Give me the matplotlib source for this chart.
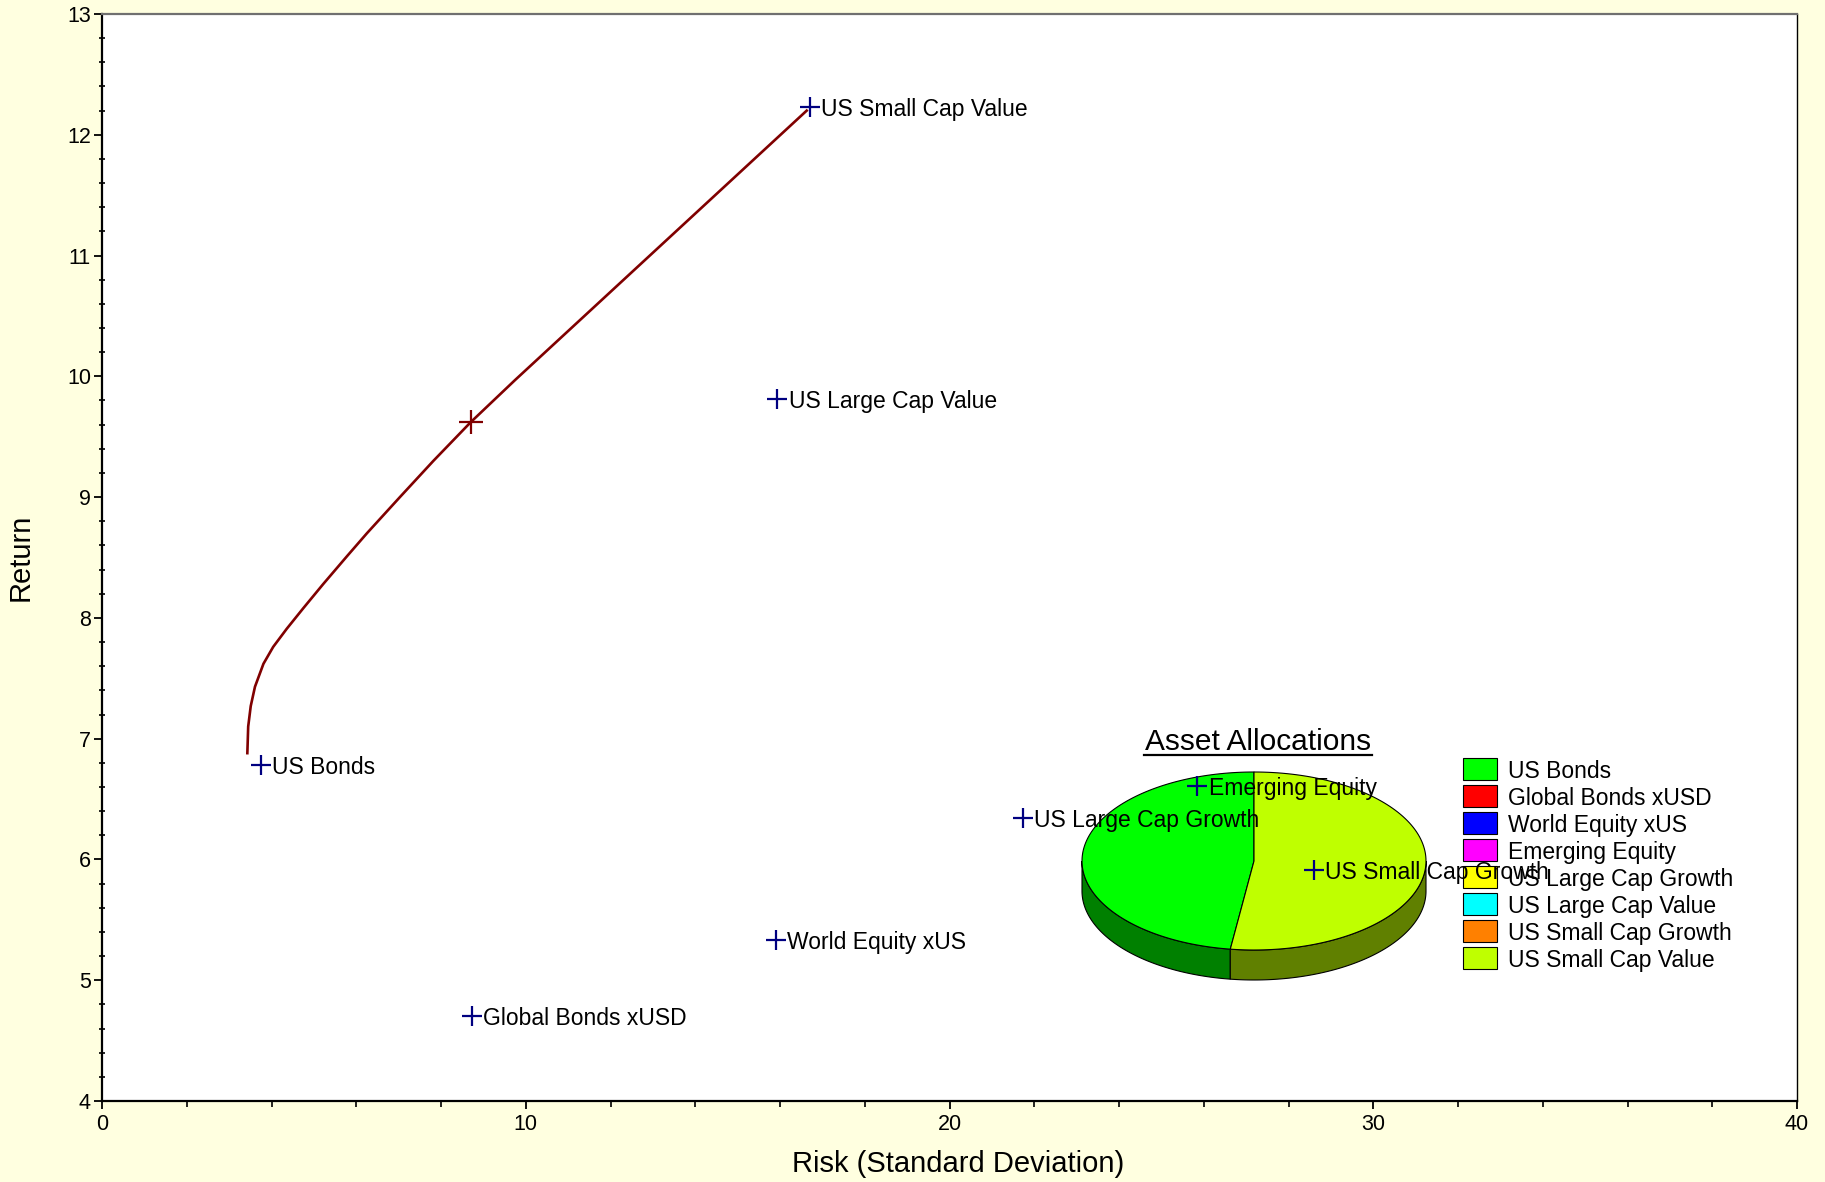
"""Efficient frontier chart with asset points and a 3D-style allocation pie."""

import matplotlib

matplotlib.use("Agg")
import numpy as np
from matplotlib import pyplot as plt
from matplotlib import transforms as mtransforms
from matplotlib.patches import Polygon, Rectangle
from matplotlib.ticker import MultipleLocator

plt.rcParams["font.family"] = ["Liberation Sans", "DejaVu Sans"]

# asset points (risk, return)
asset_names = [
    "US Bonds",
    "Global Bonds xUSD",
    "World Equity xUS",
    "Emerging Equity",
    "US Large Cap Growth",
    "US Large Cap Value",
    "US Small Cap Growth",
    "US Small Cap Value",
]
asset_risk = [3.75, 8.74, 15.91, 25.85, 21.73, 15.94, 28.60, 16.71]
asset_return = [6.78, 4.70, 5.33, 6.61, 6.34, 9.81, 5.91, 12.23]
asset_colors = ["#00FF00", "#FF0000", "#0000FF", "#FF00FF",
                "#FFFF00", "#00FFFF", "#FF8000", "#BFFF00"]
side_colors = ["#008000", "#800000", "#000080", "#800080",
               "#808000", "#008080", "#804000", "#608000"]

# allocation of the selected portfolio (%)
allocation_pct = [47.8, 0, 0, 0, 0, 0, 0, 52.2]

# efficient frontier
frontier_risk = [3.43, 3.45, 3.51, 3.61, 3.81, 4.04, 4.36, 4.75, 5.22, 5.78,
                 6.25, 7.03, 7.82, 8.70, 9.75, 16.63]
frontier_return = [6.88, 7.10, 7.27, 7.43, 7.62, 7.76, 7.91, 8.08, 8.28, 8.51,
                   8.70, 9.00, 9.30, 9.62, 9.97, 12.20]

# selected portfolio
selected_risk = 8.70
selected_return = 9.62

W, H = 1825, 1182
fig = plt.figure(figsize=(W / 100, H / 100), dpi=100, facecolor="#FFFFE0")
ax = fig.add_axes([102 / W, (H - 1101) / H, 1695 / W, 1087 / H])
ax.set_facecolor("white")
ax.set_xlim(0, 40)
ax.set_ylim(4, 13)

ax.xaxis.set_major_locator(MultipleLocator(10))
ax.xaxis.set_minor_locator(MultipleLocator(2))
ax.yaxis.set_major_locator(MultipleLocator(1))
ax.yaxis.set_minor_locator(MultipleLocator(0.2))
ax.tick_params(axis="both", which="major", direction="out", length=6,
               width=1.3, labelsize=15.5, color="black")
ax.tick_params(axis="x", which="major", pad=3)
ax.tick_params(axis="y", which="major", pad=2)
ax.tick_params(axis="x", which="minor", direction="out", length=4.5, width=1.2)
ax.tick_params(axis="y", which="minor", direction="inout", length=4.5, width=1.2)

for side in ("left", "bottom"):
    ax.spines[side].set_linewidth(1.6)
    ax.spines[side].set_color("black")
ax.spines["right"].set_linewidth(1.0)
ax.spines["top"].set_linewidth(1.6)
ax.spines["top"].set_color("#707070")

ax.set_xlabel("Risk (Standard Deviation)", fontsize=21, va="center")
ax.set_ylabel("Return", fontsize=21, va="center")
ax.xaxis.set_label_coords(0.5049, -0.058)
ax.yaxis.set_label_coords(-0.0478, 0.5)

# ---- allocation pie (pixel geometry, drawn behind the points) ----
pix = mtransforms.IdentityTransform()
cx, cy = 1254, H - 861
a, b, depth = 172, 89, 30


def arc(t0, t1, dy=0.0, n=120):
    t = np.radians(np.linspace(t0, t1, n))
    return np.column_stack([cx + a * np.cos(t), cy + b * np.sin(t) + dy])


start = 90.0
wedges = []
for pct, top_c, side_c in zip(allocation_pct, asset_colors, side_colors):
    if pct <= 0:
        continue
    end = start + 360 * pct / 100
    wedges.append((start, end, top_c, side_c))
    start = end

for s, e, _, side_c in wedges:
    for lo, hi in ((180, 360), (540, 720)):
        s0, e0 = max(s, lo), min(e, hi)
        if s0 < e0:
            pts = np.vstack([arc(s0, e0), arc(e0, s0, -depth)])
            ax.add_patch(Polygon(pts, closed=True, facecolor=side_c,
                                 edgecolor="black", lw=0.8, transform=pix,
                                 zorder=1.5))
for s, e, top_c, _ in wedges:
    pts = np.vstack([[cx, cy], arc(s, e)])
    ax.add_patch(Polygon(pts, closed=True, facecolor=top_c, edgecolor="black",
                         lw=0.8, transform=pix, zorder=1.6))

ax.text(1258, H - 750, "Asset Allocations", transform=pix, fontsize=21.5,
        ha="center", va="baseline", zorder=1.7)
ax.plot([1144, 1372], [H - 755, H - 755], transform=pix, color="black",
        lw=1.6, zorder=1.7, clip_on=False)

# legend of allocations
for i, (name, color) in enumerate(zip(asset_names, asset_colors)):
    yc = H - (769 + 27.0 * i)
    ax.add_patch(Rectangle((1463, yc - 11), 34, 22, facecolor=color,
                           edgecolor="black", lw=0.8, transform=pix,
                           zorder=1.7, clip_on=False))
    ax.text(1508, yc, name, transform=pix, fontsize=16.5, ha="left",
            va="center_baseline", zorder=1.7)

# ---- frontier and points ----
ax.plot(frontier_risk, frontier_return, color="#800000", lw=1.9, zorder=3)
ax.plot([selected_risk], [selected_return], marker="+", ms=17, mew=1.6,
        color="#800000", ls="none", zorder=4)
ax.plot(asset_risk, asset_return, marker="+", ms=14, mew=1.6,
        color="#000080", ls="none", zorder=4)
for name, x, y in zip(asset_names, asset_risk, asset_return):
    ax.annotate(name, (x, y), xytext=(8, 0), textcoords="offset points",
                fontsize=16.5, ha="left", va="center_baseline", zorder=5)

fig.savefig("out.png", dpi=100, facecolor=fig.get_facecolor())
